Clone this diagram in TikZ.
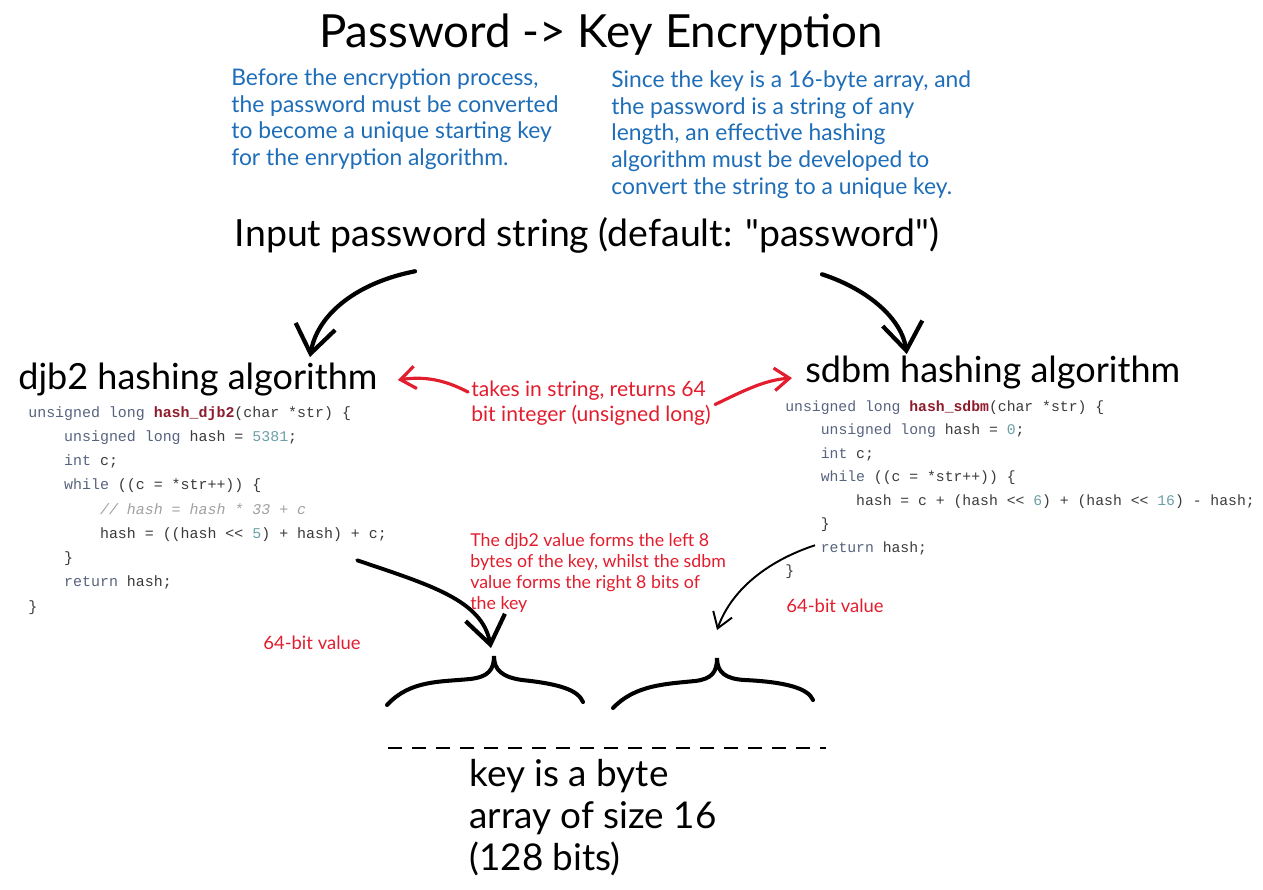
\documentclass[tikz,border=0pt]{standalone}
\usepackage{fontspec}
\usepackage{xcolor}
\setmainfont{Lato}[Ligatures=TeXOff]
\setmonofont{Liberation Mono}
\usetikzlibrary{arrows.meta, positioning, calc}

\definecolor{noteblue}{HTML}{1E6DB8}
\definecolor{notered}{HTML}{E11D2E}
\definecolor{codetxt}{HTML}{3A3A3A}
\definecolor{codekw}{HTML}{56627E}
\definecolor{codefn}{HTML}{8E1B2C}
\definecolor{codenum}{HTML}{6A9FA6}
\definecolor{codecom}{HTML}{A0A0A0}

\newcommand{\kw}[1]{\textcolor{codekw}{#1}}
\newcommand{\fnm}[1]{\textcolor{codefn}{\bfseries #1}}
\newcommand{\cnum}[1]{\textcolor{codenum}{#1}}
\newcommand{\cmt}[1]{\textcolor{codecom}{\itshape #1}}
\newcommand{\ind}{\phantom{xxxx}}

\tikzset{
  heading/.style={inner sep=0pt, font=\fontsize{20.5}{24}\selectfont},
  bluenote/.style={inner sep=0pt, align=left, text=noteblue, font=\fontsize{13}{15.3}\selectfont},
  rednote/.style={inner sep=0pt, align=left, text=notered, font=\fontsize{12}{14.2}\selectfont},
  codebox/.style={inner sep=0pt, align=left, text=codetxt, font=\ttfamily\fontsize{8.5}{13.8}\selectfont},
  bigarrow/.style={line width=2.4pt, line cap=round, -{Straight Barb[length=5.5mm, width=8mm, line width=2.4pt]}},
  redarrow/.style={notered, line width=1.8pt, line cap=round, -{Straight Barb[length=3mm, width=4.5mm]}},
  thinarrow/.style={line width=1.1pt, -{Straight Barb[length=3mm, width=4mm]}},
  bracepath/.style={line width=2.3pt, line cap=round}
}

\begin{document}
\begin{tikzpicture}[x=0.02cm, y=-0.02cm]
  \useasboundingbox (0,0) rectangle (1263,889);

  % title and notes
  \node[heading, font=\fontsize{26}{30}\selectfont] (title) at (601,35) {Password -> Key Encryption};
  \node[bluenote, anchor=north west] (before) at (231,68) {Before the encryption process,\\the password must be converted\\to become a unique starting key\\for the enryption algorithm.};
  \node[bluenote, anchor=north west] (since) at (611,70) {Since the key is a 16-byte array, and\\the password is a string of any\\length, an effective hashing\\algorithm must be developed to\\convert the string to a unique key.};

  % input and the two algorithms
  \node[heading, font=\fontsize{21.3}{24}\selectfont] (input) at (587,235) {Input password string (default: "password")};
  \node[heading, anchor=west] (djb) at (18,380) {djb2 hashing algorithm};
  \node[heading, anchor=west] (sdbm) at (805,373) {sdbm hashing algorithm};
  \draw[bigarrow] ($(input.south)+(-172,18)$) .. controls (360,282) and (318,312) .. ($(djb.north)+(112,-6)$);
  \draw[bigarrow] ($(input.south)+(235,21)$) .. controls (870,290) and (902,320) .. ($(sdbm.north)+(-86,-2)$);

  \node[rednote, anchor=north west] (returns) at (471,381) {takes in string, returns 64\\bit integer (unsigned long)};
  \draw[redarrow] ($(returns.north west)+(-3,11)$) .. controls (445,380) and (425,376) .. ($(djb.east)+(20,0)$);
  \draw[redarrow] ($(returns.east)+(4,1)$) .. controls (745,390) and (765,380) .. ($(sdbm.west)+(-13,5)$);

  % djb2 code
  \node[codebox, anchor=north west] (djbcode) at (28,406) {%
    \kw{unsigned long} \fnm{hash\_djb2}(char *str) \{\\
    \ind\kw{unsigned long} hash = \cnum{5381};\\
    \ind\kw{int} c;\\
    \ind\kw{while} ((c = *str++)) \{\\
    \ind\ind\cmt{// hash = hash * 33 + c}\\
    \ind\ind hash = ((hash <{}< \cnum{5}) + hash) + c;\\
    \ind\}\\
    \ind\kw{return} hash;\\
    \}};

  % sdbm code
  \node[codebox, anchor=north west, font=\ttfamily\fontsize{8.4}{13.4}\selectfont] (sdbmcode) at (785,400) {%
    \kw{unsigned long} \fnm{hash\_sdbm}(char *str) \{\\
    \ind\kw{unsigned long} hash = \cnum{0};\\
    \ind\kw{int} c;\\
    \ind\kw{while} ((c = *str++)) \{\\
    \ind\ind hash = c + (hash <{}< \cnum{6}) + (hash <{}< \cnum{16}) - hash;\\
    \ind\}\\
    \ind\kw{return} hash;\\
    \}};

  \node[rednote, anchor=north west, font=\fontsize{10.1}{12}\selectfont] (forms) at (470,533) {The djb2 value forms the left 8\\bytes of the key, whilst the sdbm\\value forms the right 8 bits of\\the key};
  \node[rednote, font=\fontsize{10.5}{12}\selectfont] (leftval) at (312,643) {64-bit value};
  \node[rednote, font=\fontsize{10.5}{12}\selectfont] (rightval) at (835,606) {64-bit value};

  % braces of the key
  \coordinate (lefttip) at (494,656);
  \coordinate (righttip) at (717,658);
  \draw[bracepath] (387,705) .. controls (410,680) and (440,682) .. (470,679)
    .. controls (488,677) and (494,670) .. (lefttip)
    .. controls (494,670) and (502,677) .. (522,680)
    .. controls (560,684) and (578,690) .. (583,702);
  \draw[bracepath] (613,708) .. controls (635,685) and (665,684) .. (695,681)
    .. controls (712,679) and (717,672) .. (righttip)
    .. controls (717,672) and (725,679) .. (745,680)
    .. controls (785,682) and (808,688) .. (813,700);
  \draw[bigarrow, line width=2.2pt] ($(djbcode.east)+(-30,50)$) .. controls (430,585) and (482,600) .. ($(lefttip)+(-3,-8)$);
  \draw[thinarrow] ($(sdbmcode.south west)+(30,-34)$) .. controls (770,560) and (732,588) .. ($(righttip)+(0,-28)$);

  % key array
  \draw[line width=0.9pt, dash pattern=on 0.28cm off 0.2cm] (388,748) -- (826,748);
  \node[heading, anchor=north west, align=left, font=\fontsize{21}{24}\selectfont] (key) at (469,759) {key is a byte\\array of size 16\\(128 bits)};
\end{tikzpicture}
\end{document}
